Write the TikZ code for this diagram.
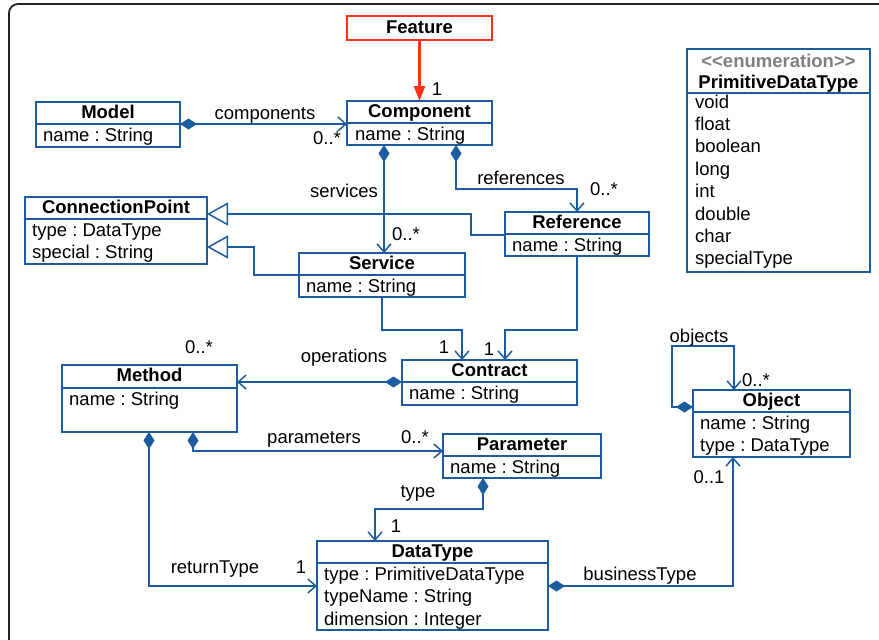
\documentclass[tikz,border=0pt]{standalone}
\usepackage{fontspec}
\setmainfont{Liberation Sans}
\usetikzlibrary{arrows.meta}
\definecolor{umlblue}{RGB}{28,92,158}
\definecolor{featred}{RGB}{250,52,22}
\definecolor{stereogray}{RGB}{128,128,128}
\definecolor{framegray}{RGB}{35,35,35}
\newcommand{\umlsize}{\fontsize{18.5}{22.5}\selectfont\frenchspacing}
\tikzset{
  classbox/.style={draw=umlblue, line width=1.5pt, fill=white, inner sep=0pt, outer sep=0pt, anchor=north west},
  title/.style={font=\umlsize\bfseries, anchor=base, inner sep=0pt},
  attr/.style={font=\umlsize, anchor=base west, inner sep=0pt},
  lbl/.style={font=\umlsize, anchor=base, inner sep=0pt},
  divider/.style={draw=umlblue, line width=1.5pt},
  assoc/.style={draw=umlblue, line width=1.5pt, -{Straight Barb[length=8pt,width=14pt]}},
  compo/.style={draw=umlblue, line width=1.5pt, {Diamond[length=17pt,width=11pt]}-{Straight Barb[length=8pt,width=14pt]}},
  gener/.style={draw=umlblue, line width=1.5pt, -{Triangle[open,length=21pt,width=23pt,fill=white]}}
}
\begin{document}
\frenchspacing
\begin{tikzpicture}[x=1pt,y=-1pt]
\useasboundingbox (0,0) rectangle (879,640);
\begin{scope}
  \clip (0,0) rectangle (879,640);
  \draw[framegray, line width=1.8pt, rounded corners=9pt] (9,4) rectangle (900,680);
\end{scope}

% ---------- class boxes ----------
\node[classbox, draw=featred, line width=2.8pt, minimum width=145pt, minimum height=24pt] (feature) at (347,16) {};
\node[title] (feature-t) at (419.5,33) {Feature};

\node[classbox, minimum width=145pt, minimum height=44pt] (comp) at (347,101) {};
\draw[divider] (comp.west |- 0,123) -- (comp.east |- 0,123);
\node[title] (comp-t) at (419.5,117.5) {Component};
\node[attr] (comp-a1) at (355,140) {name : String};

\node[classbox, minimum width=144pt, minimum height=45pt] (model) at (36,102) {};
\draw[divider] (model.west |- 0,124) -- (model.east |- 0,124);
\node[title] (model-t) at (108,118.5) {Model};
\node[attr] (model-a1) at (43,141) {name : String};

\node[classbox, minimum width=182pt, minimum height=67pt] (cp) at (25,197) {};
\draw[divider] (cp.west |- 0,219) -- (cp.east |- 0,219);
\node[title] (cp-t) at (116,213.5) {ConnectionPoint};
\node[attr] (cp-a1) at (32,236) {type : DataType};
\node[attr] (cp-a2) at (32,258.5) {special : String};

\node[classbox, minimum width=166pt, minimum height=44pt] (service) at (299,253) {};
\draw[divider] (service.west |- 0,275) -- (service.east |- 0,275);
\node[title] (service-t) at (382,269.5) {Service};
\node[attr] (service-a1) at (306,292) {name : String};

\node[classbox, minimum width=144pt, minimum height=44pt] (ref) at (505,212) {};
\draw[divider] (ref.west |- 0,234) -- (ref.east |- 0,234);
\node[title] (ref-t) at (577,228.5) {Reference};
\node[attr] (ref-a1) at (512,251) {name : String};

\node[classbox, minimum width=175pt, minimum height=45pt] (contract) at (402,360) {};
\draw[divider] (contract.west |- 0,382) -- (contract.east |- 0,382);
\node[title] (contract-t) at (489.5,376.5) {Contract};
\node[attr] (contract-a1) at (409,399) {name : String};

\node[classbox, minimum width=175pt, minimum height=67pt] (method) at (62,365) {};
\draw[divider] (method.west |- 0,388) -- (method.east |- 0,388);
\node[title] (method-t) at (149.5,381.5) {Method};
\node[attr] (method-a1) at (69,405) {name : String};

\node[classbox, minimum width=158pt, minimum height=44pt] (param) at (443,434) {};
\draw[divider] (param.west |- 0,456) -- (param.east |- 0,456);
\node[title] (param-t) at (522,450.5) {Parameter};
\node[attr] (param-a1) at (450,473) {name : String};

\node[classbox, minimum width=231pt, minimum height=89pt] (dtype) at (317,541) {};
\draw[divider] (dtype.west |- 0,563) -- (dtype.east |- 0,563);
\node[title] (dtype-t) at (432.5,557.5) {DataType};
\node[attr] (dtype-a1) at (324,580) {type : PrimitiveDataType};
\node[attr] (dtype-a2) at (324,602.5) {typeName : String};
\node[attr] (dtype-a3) at (324,625) {dimension : Integer};

\node[classbox, minimum width=157pt, minimum height=67pt] (obj) at (693,390) {};
\draw[divider] (obj.west |- 0,412) -- (obj.east |- 0,412);
\node[title] (obj-t) at (771.5,406.5) {Object};
\node[attr] (obj-a1) at (700,429) {name : String};
\node[attr] (obj-a2) at (700,451.5) {type : DataType};

\node[classbox, minimum width=183pt, minimum height=223pt] (enum) at (687,49) {};
\draw[divider] (enum.west |- 0,93) -- (enum.east |- 0,93);
\node[title, text=stereogray] (enum-s) at (778.5,67) {{<}{<}enumeration{>}{>}};
\node[title] (enum-t) at (778.5,88) {PrimitiveDataType};
\foreach \lit [count=\i from 0] in {void,float,boolean,long,int,double,char,specialType}{
  \node[attr] (enum-\i) at (695,108+22.4*\i) {\lit};
}

% ---------- connectors ----------
\draw[draw=featred, line width=2.8pt, -{Triangle[length=15pt,width=11pt]}] (feature.south) -- (comp.north);
\node[lbl] (feature-m) at (437,95) {1};

\draw[compo] (model.east |- 0,124) -- (comp.west |- 0,124);
\node[lbl] (components-l) at (265,119) {components};
\node[lbl] (components-m) at (327,144) {0..*};

\draw[compo] (comp.south -| 384,0) -- (service.north -| 384,0);
\node[lbl] (services-l) at (344,197) {services};
\node[lbl] (services-m) at (406,240) {0..*};

\draw[compo] (comp.south -| 456,0) -- (456,189) -- (577,189) -- (ref.north -| 577,0);
\node[lbl] (references-l) at (521,184) {references};
\node[lbl] (references-m) at (604,195) {0..*};

\draw[gener] (ref.west |- 0,235) -- (471,235) -- (471,214) -- (cp.east |- 0,214);
\draw[gener] (service.west |- 0,275) -- (254,275) -- (254,247) -- (cp.east |- 0,247);

\draw[assoc] (service.south -| 382,0) -- (382,330) -- (462,330) -- (contract.north -| 462,0);
\node[lbl] (sc-m) at (444,353) {1};
\draw[assoc] (ref.south -| 577,0) -- (577,330) -- (505,330) -- (contract.north -| 505,0);
\node[lbl] (rc-m) at (489,355) {1};

\draw[compo] (contract.west |- 0,382) -- (method.east |- 0,382);
\node[lbl] (operations-l) at (344,362) {operations};
\node[lbl] (operations-m) at (199,353) {0..*};

\draw[compo] (method.south -| 193,0) -- (193,451) -- (param.west |- 0,451);
\node[lbl] (parameters-l) at (314,443) {parameters};
\node[lbl] (parameters-m) at (415,443) {0..*};

\draw[compo] (method.south -| 149,0) -- (149,586) -- (dtype.west |- 0,586);
\node[lbl] (returntype-l) at (215,573) {returnType};
\node[lbl] (returntype-m) at (301,573) {1};

\draw[compo] (param.south -| 483,0) -- (483,509) -- (375,509) -- (dtype.north -| 375,0);
\node[lbl] (type-l) at (418,497) {type};
\node[lbl] (type-m) at (396,532) {1};

\draw[compo] (dtype.east |- 0,586) -- (733,586) -- (obj.south -| 733,0);
\node[lbl] (business-l) at (640,580) {businessType};
\node[lbl] (business-m) at (709,483) {0..1};

\draw[compo] (obj.west |- 0,407) -- (672,407) -- (672,346) -- (734,346) -- (obj.north -| 734,0);
\node[lbl] (objects-l) at (699,342) {objects};
\node[lbl] (objects-m) at (756,386) {0..*};
\end{tikzpicture}
\end{document}
